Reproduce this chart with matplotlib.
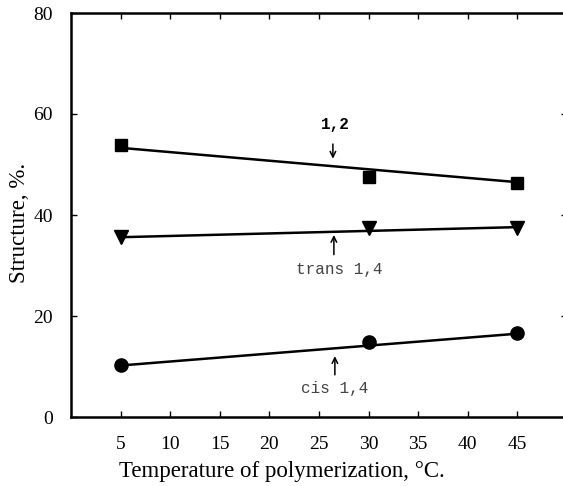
import numpy as np
import matplotlib.pyplot as plt

plt.rcParams['font.family'] = ['Liberation Serif', 'DejaVu Serif']

# temperature of polymerization, deg C
temps = [5, 30, 45]

# structure percentages
vinyl_12 = [53.9, 47.6, 46.3]
trans_14 = [35.6, 37.4, 37.4]
cis_14 = [10.3, 14.9, 16.6]

# fitted straight lines (end values at 5 and 45 deg C)
fit_x = [5, 45]
fit_12 = [53.3, 46.5]
fit_trans = [35.6, 37.6]
fit_cis = [10.2, 16.5]

xticks = [5, 10, 15, 20, 25, 30, 35, 40, 45]
yticks = [0, 20, 40, 60, 80]

fig = plt.figure(figsize=(5.63, 4.86), dpi=100)
ax = fig.add_axes([71 / 563, 1 - 417 / 486, 496 / 563, 404 / 486])

for ys, fit, mk, ms in [(vinyl_12, fit_12, 's', 9),
                        (trans_14, fit_trans, 'v', 10),
                        (cis_14, fit_cis, 'o', 9.5)]:
    ax.plot(fit_x, fit, color='black', lw=1.8)
    ax.plot(temps, ys, ls='none', marker=mk, ms=ms, color='black')

mono = ['Liberation Mono', 'DejaVu Sans Mono']
arrow = dict(arrowstyle='->', color='black', lw=1.1)
ax.annotate('', xy=(26.4, 50.6), xytext=(26.4, 54.6), arrowprops=arrow)
ax.text(26.7, 57.9, '1,2', family=mono, fontsize=11.5, ha='center', va='center',
        fontweight='bold')
ax.annotate('', xy=(26.5, 36.6), xytext=(26.5, 31.6), arrowprops=arrow)
ax.text(27.0, 29.3, 'trans 1,4', family=mono, fontsize=11.5, ha='center', va='center',
        color='#444444')
ax.annotate('', xy=(26.6, 12.6), xytext=(26.6, 7.8), arrowprops=arrow)
ax.text(26.6, 5.6, 'cis 1,4', family=mono, fontsize=11.5, ha='center', va='center',
        color='#444444')

ax.set_xlim(0, 50)
ax.set_ylim(0, 80)
ax.set_xticks(xticks)
ax.set_yticks(yticks)
ax.tick_params(direction='in', length=4, width=1, top=True, right=True,
               labelsize=14)
ax.tick_params(axis='x', pad=14)
ax.tick_params(axis='y', pad=13)
for s in ax.spines.values():
    s.set_linewidth(1.8)

ax.set_xlabel('Temperature of polymerization, °C.', fontsize=16.5)
ax.xaxis.set_label_coords((282 - 71) / 496, -0.108)
ax.set_ylabel('Structure, %.', fontsize=16.5)
ax.yaxis.set_label_coords(-0.082, 0.48)

fig.savefig('out.png', dpi=100)
